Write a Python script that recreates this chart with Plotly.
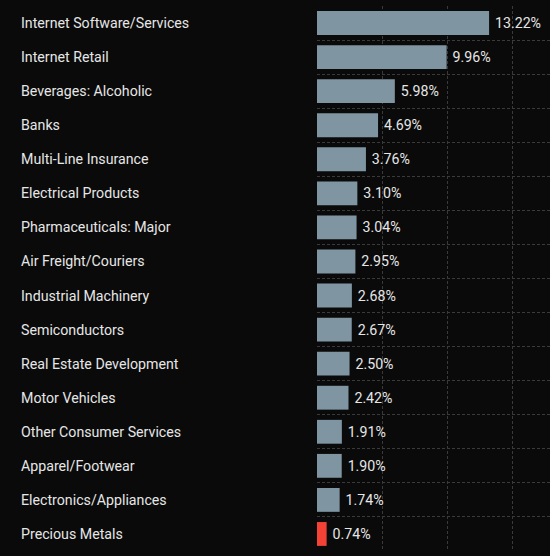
import plotly.graph_objects as go

categories = [
    "Internet Software/Services", "Internet Retail", "Beverages: Alcoholic", "Banks",
    "Multi-Line Insurance", "Electrical Products", "Pharmaceuticals: Major",
    "Air Freight/Couriers", "Industrial Machinery", "Semiconductors",
    "Real Estate Development", "Motor Vehicles", "Other Consumer Services",
    "Apparel/Footwear", "Electronics/Appliances", "Precious Metals",
]
weights = [13.22, 9.96, 5.98, 4.69, 3.76, 3.10, 3.04, 2.95, 2.68, 2.67, 2.50, 2.42, 1.91, 1.90, 1.74, 0.74]
x_ticks = [0, 5, 10, 15]

BG = "#0a0a0a"
GRID = "#3a3a3a"
TEXT = "#e6e6e6"
FONT = "Roboto"

n = len(categories)
ypos = list(range(n))
colors = ["#f44336" if i == n - 1 else "#7f95a1" for i in range(n)]

fig = go.Figure()
fig.add_trace(go.Bar(
    x=weights, y=ypos, orientation="h",
    marker=dict(color=colors, line=dict(width=0)),
    text=[f"\u2009{w:.2f}%" for w in weights], textposition="outside",
    textfont=dict(family=FONT, size=14.2, color=TEXT),
    cliponaxis=False, hoverinfo="skip",
))
# invisible trace on the overlay axis so its boundary gridlines render
fig.add_trace(go.Scatter(x=[0], y=[0], yaxis="y2", mode="markers",
                         marker=dict(opacity=0), showlegend=False, hoverinfo="skip"))

for i, c in enumerate(categories):
    fig.add_annotation(x=0, xref="paper", xshift=-298, xanchor="left",
                       y=i, yref="y", text=c, showarrow=False,
                       font=dict(family=FONT, size=14.2, color=TEXT))

fig.update_layout(
    width=550, height=556,
    margin=dict(l=317, r=0, t=6, b=5),
    paper_bgcolor=BG, plot_bgcolor=BG,
    showlegend=False, bargap=0.3,
    xaxis=dict(range=[0, 17.9], tickvals=x_ticks, showticklabels=False,
               showgrid=True, gridcolor=GRID, griddash="3px,2px", gridwidth=1,
               zeroline=False, showline=False),
    yaxis=dict(range=[n - 0.5, -0.5], showticklabels=False, showgrid=False,
               zeroline=False, showline=False),
    yaxis2=dict(range=[n - 0.5, -0.5], overlaying="y",
                tickvals=[i + 0.5 for i in range(n - 1)], showticklabels=False,
                showgrid=True, gridcolor=GRID, griddash="3px,2px", gridwidth=1,
                zeroline=False, showline=False),
)

fig.write_html("out.html")
